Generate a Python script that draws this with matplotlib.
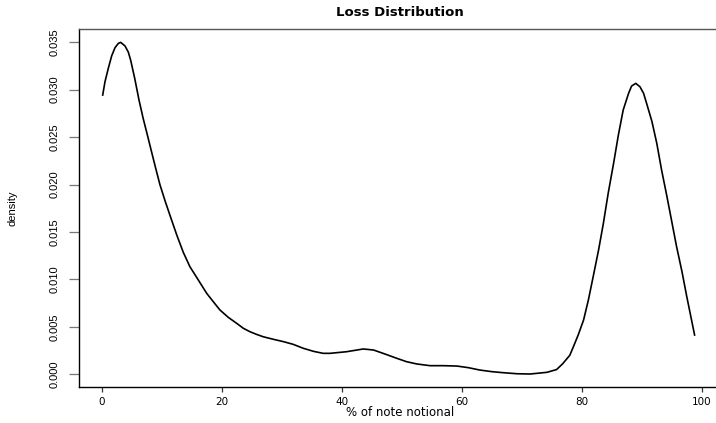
import matplotlib
matplotlib.use("Agg")
import matplotlib.pyplot as plt
from matplotlib.ticker import FixedLocator, FormatStrFormatter

# Data (kernel density of losses)
loss_pct = [0.17, 0.55, 1.1, 1.67, 2.22, 2.78, 3.17, 3.89, 4.44, 4.83, 5.5,
            6.22, 6.9, 7.66, 8.33, 9.0, 9.7, 10.55, 11.3, 12.5, 13.6, 14.7,
            16.1, 17.5, 18.6, 19.7, 21.1, 22.5, 23.6, 24.7, 25.8, 26.9, 28.6,
            30.3, 31.9, 33.6, 35.3, 36.9, 38.05, 40.8, 43.6, 45.3, 47.2, 49.2,
            50.8, 52.5, 54.7, 56.9, 59.2, 61.1, 63.0, 65.0, 66.9, 69.2, 71.4,
            74.2, 75.8, 76.8, 78.0, 78.6, 79.4, 80.3, 81.1, 81.9, 82.8, 83.6,
            84.4, 85.3, 86.1, 86.9, 87.8, 88.3, 89.0, 89.7, 90.3, 90.8, 91.7,
            92.5, 93.3, 94.2, 95.0, 95.8, 96.7, 97.5, 98.8]
density = [0.02943, 0.03083, 0.03224, 0.03357, 0.03442, 0.03488, 0.03498,
           0.0346, 0.03395, 0.03310, 0.03120, 0.02890, 0.02700, 0.02510,
           0.02340, 0.02171, 0.0200, 0.01830, 0.01690, 0.0147, 0.01285,
           0.01134, 0.00994, 0.00853, 0.00765, 0.00678, 0.0060, 0.00537,
           0.00485, 0.00449, 0.00421, 0.00396, 0.00369, 0.00344, 0.00316,
           0.00274, 0.00242, 0.00221, 0.00221, 0.00238, 0.00267, 0.00256,
           0.00214, 0.00168, 0.00133, 0.00109, 0.00091, 0.00091, 0.00087,
           0.0007, 0.00045, 0.00028, 0.00017, 0.00006, 0.00003, 0.00021,
           0.0005, 0.0011, 0.0020, 0.0029, 0.00414, 0.00572, 0.00783,
           0.01029, 0.0131, 0.01591, 0.01907, 0.02223, 0.02522, 0.02785,
           0.02961, 0.03038, 0.03066, 0.0303, 0.02961, 0.02856, 0.02662,
           0.02434, 0.02153, 0.01871, 0.01608, 0.01345, 0.01081, 0.00818,
           0.00414]

x_ticks = [0, 20, 40, 60, 80, 100]
y_ticks = [0.000, 0.005, 0.010, 0.015, 0.020, 0.025, 0.030, 0.035]

title = "Loss Distribution"
x_label = "% of note notional"
y_label = "density"

W, H = 716, 423
fig = plt.figure(figsize=(W / 100, H / 100), dpi=100)
left, right, top, bottom = 79, 721, 29, 387
ax = fig.add_axes([left / W, 1 - bottom / H, (right - left) / W, (bottom - top) / H])

ax.plot(loss_pct, density, color="black", lw=1.2, solid_joinstyle="round")

ax.set_xlim(-3.78, 103.2)
ax.set_ylim(-0.001338, 0.03639)

narrow = ["Liberation Sans Narrow", "DejaVu Sans Condensed", "Liberation Sans", "DejaVu Sans"]
wide = ["DejaVu Sans"]

ax.xaxis.set_major_locator(FixedLocator(x_ticks))
ax.yaxis.set_major_locator(FixedLocator(y_ticks))
ax.yaxis.set_major_formatter(FormatStrFormatter("%.3f"))

ax.tick_params(axis="x", length=3.4, width=0.9, color="#333333", pad=3.5)
ax.tick_params(axis="y", length=7.2, width=0.9, color="#777777", pad=7.0)
for lab in ax.get_xticklabels():
    lab.set_family(wide)
    lab.set_fontsize(7.5)
for lab in ax.get_yticklabels():
    lab.set_family(narrow)
    lab.set_fontsize(8)
    lab.set_rotation(90)
    lab.set_va("center")

for s in ["left", "bottom"]:
    ax.spines[s].set_color("black")
    ax.spines[s].set_linewidth(1.0)
ax.spines["top"].set_color("#555555")
ax.spines["top"].set_linewidth(1.0)
ax.spines["right"].set_visible(False)

ax.text(0.5, 1.046, title, transform=ax.transAxes, ha="center", va="center",
        fontsize=9.5, fontweight="bold", family=wide)

ax.set_xlabel(x_label, fontsize=8.5, family=wide)
ax.xaxis.set_label_coords(0.5, -0.0726)
ax.xaxis.label.set_va("center")

ax.set_ylabel(y_label, fontsize=8, family=narrow)
ax.yaxis.set_label_coords(-0.104, 0.5)
ax.yaxis.label.set_va("center")

fig.savefig("out.png", dpi=100)
